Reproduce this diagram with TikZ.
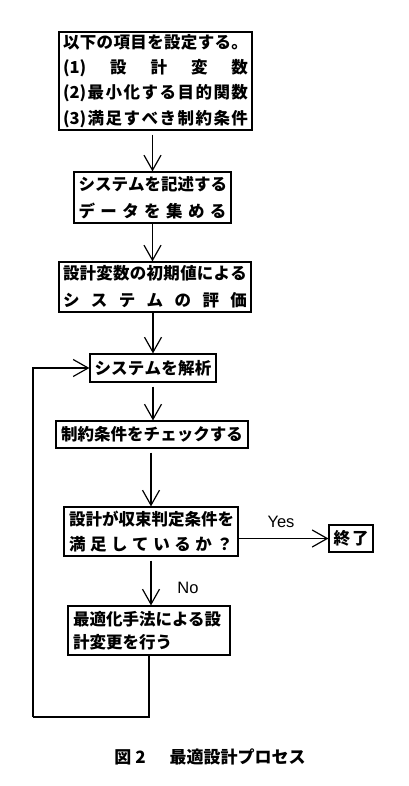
\documentclass[tikz,border=0pt]{standalone}
\usepackage{fontspec}
\setmainfont{Noto Sans CJK JP}
\newfontfamily\latinsans{Liberation Sans}
\usetikzlibrary{arrows.meta}
\newcommand\jsp[2]{\hbox to #1{\jsploop#2\jspend}}
\def\jsploop#1#2\jspend{#1\ifx\relax#2\relax\else\hfil\jsploop#2\jspend\fi}
\tikzset{
  box/.style={draw, line width=1.2pt, inner sep=0pt, align=center},
  arr/.style={line width=1.2pt, -{Straight Barb[length=15pt,width=17pt,line width=1.2pt]}},
  conn/.style={line width=1.2pt},
  lbl/.style={font=\latinsans\fontsize{16.5}{18}\selectfont, inner sep=0pt},
}
\begin{document}
\begin{tikzpicture}[x=1pt,y=-1pt]
\useasboundingbox (0,0) rectangle (408,786);
\node[box, minimum width=193pt, minimum height=98pt, font=\fontsize{16.5}{25.3}\selectfont\bfseries] (b1) at (155.5,81)
  {\jsp{185pt}{以下の項目を設定する。}\\
   \jsp{185pt}{{(1)}設計変数}\\
   \jsp{185pt}{{(2)}最小化する目的関数}\\
   \jsp{185pt}{{(3)}満足すべき制約条件}};
\node[box, minimum width=157pt, minimum height=51pt, font=\fontsize{16.5}{27}\selectfont\bfseries] (b2) at (152.5,197.5)
  {\jsp{148pt}{システムを記述する}\\
   \jsp{148pt}{データを集める}};
\node[box, minimum width=192pt, minimum height=50pt, font=\fontsize{16.5}{27}\selectfont\bfseries] (b3) at (155,287)
  {\jsp{184pt}{設計変数の初期値による}\\
   \jsp{184pt}{システムの評価}};
\node[box, minimum width=126pt, minimum height=28pt, font=\fontsize{16.5}{20}\selectfont\bfseries] (b4) at (153,368)
  {\jsp{117pt}{システムを解析}};
\node[box, minimum width=192pt, minimum height=27pt, font=\fontsize{16.5}{20}\selectfont\bfseries] (b5) at (152,434.5)
  {\jsp{182pt}{制約条件をチェックする}};
\node[box, minimum width=174pt, minimum height=49pt, font=\fontsize{16.5}{25}\selectfont\bfseries] (b6) at (151,531.5)
  {\jsp{164pt}{設計が収束判定条件を}\\
   \jsp{164pt}{満足しているか？}};
\node[box, minimum width=44pt, minimum height=27pt, font=\fontsize{16.5}{20}\selectfont\bfseries] (b7) at (351,538.5)
  {\jsp{35pt}{終了}};
\node[box, minimum width=162pt, minimum height=49pt, align=left, font=\fontsize{16.5}{23}\selectfont\bfseries] (b8) at (149,630.5)
  {\hbox to 152pt{最適化手法による設\hfil}\\
   \hbox to 152pt{計変更を行う\hfil}};
\node[lbl] (yes) at (281,522) {Yes};
\node[lbl] (no) at (188,588) {No};
\node[inner sep=0pt, font=\fontsize{17}{20}\selectfont\bfseries] (cap) at (210,757)
  {図\hspace{4pt}2\hspace{24pt}最適設計プロセス};
\coordinate (lc) at (33,717);
\draw[arr, shorten <=4pt] (b2.north |- b1.south) -- (b2.north);
\draw[arr] (b2.south) -- (b2.south |- b3.north);
\draw[arr] (b4.north |- b3.south) -- (b4.north);
\draw[arr, shorten <=4pt] (b4.south) -- (b4.south |- b5.north);
\draw[arr, shorten <=4pt] (b6.north |- b5.south) -- (b6.north);
\draw[arr, shorten <=4pt] (b6.south) -- (b6.south |- b8.north);
\draw[arr] (b6.east |- b7.west) -- (b7.west);
\draw[conn] (b8.south) |- (lc);
\draw[arr] (lc) |- (b4.west);
\end{tikzpicture}
\end{document}
